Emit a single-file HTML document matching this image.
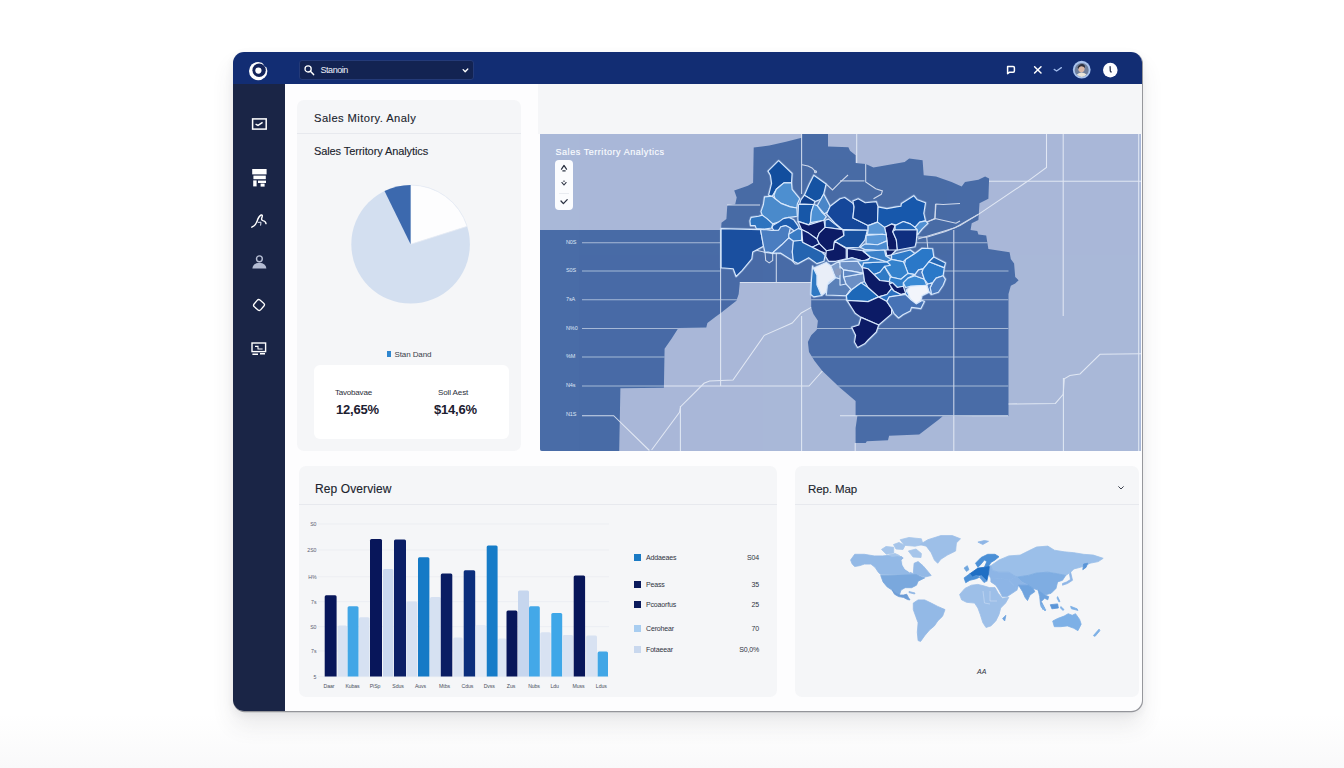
<!DOCTYPE html>
<html lang="en">
<head>
<meta charset="utf-8">
<title>Sales Territory Analytics</title>
<style>
*{box-sizing:border-box;margin:0;padding:0}
html,body{width:1344px;height:768px;overflow:hidden}
body{font-family:"Liberation Sans",sans-serif;background:linear-gradient(180deg,#ffffff 0%,#ffffff 93%,#f9f9fa 100%);position:relative;color:#20242e}
.abs{position:absolute}
.win{position:absolute;left:233px;top:52px;width:909px;height:659px;border-radius:11px;background:#fdfdfe;overflow:hidden;box-shadow:0.6px 0.8px 0 0.4px rgba(120,122,128,.75),0 14px 22px rgba(60,62,70,.11),0 3px 8px rgba(60,62,70,.07)}
.winwrap{position:absolute;left:0;top:0;width:1344px;height:768px}
.hdr{position:absolute;left:0;top:0;width:909px;height:32px;background:#122d73}
.side{position:absolute;left:0;top:32px;width:52px;height:627px;background:#1a2546}
.search{position:absolute;left:66px;top:8px;width:175px;height:19.5px;border-radius:3px;background:#132352;border:1px solid #243a78}
.search span{position:absolute;left:20.5px;top:4px;font-size:9px;color:#eef2fb;letter-spacing:-.45px}
.rpanel{position:absolute;left:305px;top:32px;width:604px;height:50px;background:#f5f6f8}
.card{position:absolute;background:#f5f6f8;border-radius:7px}
.card h3{position:absolute;font-weight:400;font-size:11.5px;color:#20242d;white-space:nowrap;letter-spacing:-.1px;-webkit-text-stroke:.12px #20242d}
.hr{position:absolute;height:1px;background:#e7e9ee}
.mapsvg,.barsvg,.piesvg,.worldsvg{position:absolute;display:block}
.mapsvg{border-radius:0 0 0 2px}
.t{position:absolute;white-space:nowrap}
.lg{position:absolute;left:335px;width:125px;height:8px;font-size:7px;line-height:8px;color:#2f3442;letter-spacing:-.15px}
.lg i{position:absolute;left:0;top:0;width:7px;height:7px}
.lg b{position:absolute;left:12px;top:0;font-weight:400;white-space:nowrap}
.lg u{position:absolute;right:0;top:0;text-decoration:none;white-space:nowrap}
.mapl{font-size:5.5px;color:#dfe7f6;letter-spacing:-.1px}
</style>
</head>
<body>
<div class="win">
  <div class="hdr">
    <svg class="abs" style="left:14px;top:8px" width="22" height="22" viewBox="0 0 22 22"><circle cx="11.2" cy="11.1" r="9.2" fill="#fff"/><circle cx="12.1" cy="10.3" r="6.7" fill="#14245a"/><path d="M14.5 1.2 L21.5 1.2 L21.5 8 L17.6 6.4 Z" fill="#122d73"/><circle cx="11.4" cy="10.6" r="3.1" fill="#fff"/></svg>
    <div class="search">
      <svg class="abs" style="left:1.5px;top:1px" width="16" height="16" viewBox="0 0 16 16"><circle cx="6.1" cy="6.9" r="3.1" fill="none" stroke="#fff" stroke-width="1.3"/><path d="M8.4 9.3 L11.6 12.6" stroke="#fff" stroke-width="1.5" stroke-linecap="round"/></svg>
      <span>Stanoin</span>
      <svg class="abs" style="left:162px;top:6.5px" width="8" height="6" viewBox="0 0 8 6"><path d="M1.2 1.6 L3.2 3.8 L5.8 1" fill="none" stroke="#fff" stroke-width="1.3" stroke-linecap="round" stroke-linejoin="round"/></svg>
    </div>
    <!-- right icons -->
    <svg class="abs" style="left:772px;top:12px" width="12" height="12" viewBox="0 0 12 12"><path d="M2.6 2.6 H8.2 Q9.4 2.6 9.4 3.8 V7 Q9.4 8.2 8.2 8.2 H4.6 L2.6 9.6 Z" fill="none" stroke="#fff" stroke-width="1.5" stroke-linejoin="round"/></svg>
    <svg class="abs" style="left:799px;top:12px" width="12" height="12" viewBox="0 0 12 12"><path d="M2.6 2.8 L9 9 M9 2.8 L2.6 9" stroke="#fff" stroke-width="1.5" stroke-linecap="round"/></svg>
    <svg class="abs" style="left:820px;top:14px" width="10" height="7" viewBox="0 0 10 7"><path d="M1.2 3.4 L3.6 5 L8.4 1.6" fill="none" stroke="#9db8ea" stroke-width="1.3" stroke-linecap="round" stroke-linejoin="round"/></svg>
    <svg class="abs" style="left:839px;top:8px" width="20" height="20" viewBox="0 0 20 20"><circle cx="9.7" cy="9.7" r="8.9" fill="#a9c3ee"/><circle cx="9.7" cy="9.9" r="7" fill="#6f7f9c"/><ellipse cx="9.4" cy="8.6" rx="3.2" ry="3.8" fill="#d9b7a6"/><path d="M5.6 7.6 Q7 3.4 11.4 4.2 Q13.6 5.2 13 8 Q11 5.8 8.4 6.4 Q6.6 7 6.4 9 Z" fill="#2c2f3d"/><path d="M4.8 14.6 Q9.6 10.6 14.6 14.6 Q12.4 17 9.7 17 Q7 17 4.8 14.6Z" fill="#e8e4da"/></svg>
    <svg class="abs" style="left:869px;top:10px" width="17" height="17" viewBox="0 0 17 17"><circle cx="8.3" cy="8.1" r="7.3" fill="#fdfdff"/><path d="M8.1 4.6 L8.3 9 L9.1 10" fill="none" stroke="#27304e" stroke-width="1.3" stroke-linecap="round"/></svg>
  </div>
  <div class="side">
    <!-- icon 1: rect w/ check -->
    <svg class="abs" style="left:17px;top:33px" width="18" height="14" viewBox="0 0 18 14"><rect x="2.6" y="1.9" width="13.6" height="10.2" fill="none" stroke="#fff" stroke-width="1.5"/><path d="M5.6 7.2 L8 8.4 L12.6 5.4" fill="none" stroke="#fff" stroke-width="1.4"/></svg>
    <!-- icon 2 -->
    <svg class="abs" style="left:18px;top:84px" width="17" height="20" viewBox="0 0 17 20"><rect x="1.2" y="1" width="14.4" height="5.4" fill="#fff"/><rect x="2.4" y="7.6" width="12.4" height="3.6" fill="#fff"/><rect x="2.2" y="12.4" width="3.4" height="6" fill="#fff"/><rect x="7" y="12.6" width="8" height="2.4" fill="#fff"/><rect x="9.6" y="15.6" width="4" height="3" fill="#fff"/></svg>
    <!-- icon 3 scribble -->
    <svg class="abs" style="left:17px;top:129px" width="18" height="16" viewBox="0 0 18 16"><path d="M1.8 14.2 Q5.4 12.6 7 8.6 Q8.4 3.4 11.2 2 Q13 1.6 12 4.4 Q10.8 7 13 7.6 Q15.6 8 16 10.6" fill="none" stroke="#fff" stroke-width="1.4" stroke-linecap="round"/><path d="M7.8 9.4 L11 9.2 L10.6 12.6" fill="none" stroke="#dfe4f2" stroke-width="1"/></svg>
    <!-- icon 4 person -->
    <svg class="abs" style="left:18px;top:171px" width="17" height="15" viewBox="0 0 17 15"><circle cx="8.4" cy="3.8" r="2.9" fill="none" stroke="#b9c0d6" stroke-width="1.4"/><path d="M1.4 13.6 Q1.8 8.2 8.4 7.8 Q15 8.2 15.4 13.6 Z" fill="#b4bcd3"/></svg>
    <!-- icon 5 diamond -->
    <svg class="abs" style="left:18px;top:213px" width="16" height="16" viewBox="0 0 16 16"><rect x="3.6" y="3.6" width="8.8" height="8.8" rx="2" transform="rotate(40 8 8)" fill="none" stroke="#fff" stroke-width="1.3"/></svg>
    <!-- icon 6 monitor -->
    <svg class="abs" style="left:17px;top:257px" width="18" height="15" viewBox="0 0 18 15"><rect x="2" y="2" width="13.6" height="8.6" fill="none" stroke="#fff" stroke-width="1.4"/><path d="M5 5.4 H8 V8 H12.6" fill="none" stroke="#fff" stroke-width="1.1"/><path d="M2.4 13.2 H8 M10 12.8 H15" stroke="#fff" stroke-width="1.5"/></svg>
  </div>
  <div class="rpanel"></div>

  <!-- Card 1 -->
  <div class="card" style="left:64px;top:48px;width:224px;height:351px">
    <h3 style="left:17px;top:12px;font-size:11.2px;letter-spacing:.42px">Sales Mitory. Analy</h3>
    <div class="hr" style="left:0;top:33px;width:224px"></div>
    <h3 style="left:17px;top:45px;font-size:11px">Sales Territory Analytics</h3>
    <div class="t" style="left:90px;top:251px;width:4px;height:6px;background:#2f86cf"></div>
    <div class="t" style="left:97.5px;top:249.5px;font-size:8px;color:#3a3f4c;letter-spacing:-.1px">Stan Dand</div>
    <div class="abs" style="left:17px;top:265px;width:195px;height:74px;border-radius:6px;background:#fff"></div>
    <div class="t" style="left:38px;top:288px;font-size:8px;color:#2b2f3a;letter-spacing:-.2px">Tavobavae</div>
    <div class="t" style="left:39px;top:302px;font-size:13px;font-weight:700;color:#1c2030;letter-spacing:-.2px">12,65%</div>
    <div class="t" style="left:141px;top:288px;font-size:8px;color:#2b2f3a;letter-spacing:-.1px">Soll Aest</div>
    <div class="t" style="left:137px;top:302px;font-size:13px;font-weight:700;color:#1c2030;letter-spacing:-.2px">$14,6%</div>
  </div>
  <svg class="piesvg" style="left:107px;top:123px" viewBox="340 175 140 140" width="140" height="140">
<circle cx="410.6" cy="244.3" r="59.3" fill="#d3dff0"/>
<path d="M410.6,244.3 L410.60,185.00 A59.3,59.3 0 0 1 467.12,226.37 Z" fill="#fdfdfe" stroke="#e6ebf4" stroke-width="0.8"/>
<path d="M410.6,244.3 L384.51,191.05 A59.3,59.3 0 0 1 410.60,185.00 Z" fill="#3c69ae"/>
</svg>

  <!-- Map -->
  <svg class="mapsvg" style="left:307px;top:82px" viewBox="540 134 601 317" width="601" height="317">
<rect x="540" y="134" width="601" height="317" fill="#a9b8d8"/>
<polygon points="540.0,230.0 721.0,230.0 721.5,222.8 726.4,218.9 727.3,205.2 735.2,204.2 736.7,197.4 734.2,190.5 747.9,185.7 753.1,182.7 753.7,147.6 769.3,145.6 786.0,141.7 801.6,137.8 801.6,134.0 828.0,134.0 828.0,146.6 848.4,147.2 850.0,150.7 855.6,155.2 855.6,163.0 865.7,164.1 873.5,167.5 904.7,161.9 909.2,158.6 922.6,160.3 923.7,175.3 936.0,176.4 941.6,178.6 951.6,182.0 961.7,186.5 965.0,182.0 978.4,179.8 985.1,176.4 989.1,178.6 988.4,198.7 979.5,203.2 978.4,219.9 971.7,223.3 970.6,230.0 977.3,231.1 978.4,234.4 986.2,235.6 988.4,249.0 1009.6,252.3 1010.8,259.0 1014.1,263.5 1015.2,276.9 1018.6,280.2 1015.2,283.6 1010.8,285.8 1008.5,294.0 1008.5,415.7 942.7,416.3 938.2,420.1 919.2,434.6 889.1,435.7 888.0,440.2 866.8,441.3 865.7,443.1 855.6,443.1 855.6,428.0 857.4,415.7 855.6,415.7 855.6,401.0 840.0,387.8 822.4,371.0 814.6,361.0 809.0,352.0 807.9,342.0 811.2,335.3 816.8,329.7 817.9,320.8 813.4,314.0 811.2,307.4 811.2,294.0 811.2,282.4 739.8,282.4 738.7,294.0 736.4,300.7 720.8,313.0 716.3,316.3 707.4,323.0 706.3,327.5 678.4,328.0 671.7,338.6 664.6,348.7 663.9,387.8 620.4,388.2 619.2,451.0 540.0,451.0" fill="#496ca7"/>
<g stroke="#edf2fa" stroke-width="1.05" fill="none" opacity="0.82">
<clipPath id="rc"><polygon points="540.0,230.0 721.0,230.0 721.5,222.8 726.4,218.9 727.3,205.2 735.2,204.2 736.7,197.4 734.2,190.5 747.9,185.7 753.1,182.7 753.7,147.6 769.3,145.6 786.0,141.7 801.6,137.8 801.6,134.0 828.0,134.0 828.0,146.6 848.4,147.2 850.0,150.7 855.6,155.2 855.6,163.0 865.7,164.1 873.5,167.5 904.7,161.9 909.2,158.6 922.6,160.3 923.7,175.3 936.0,176.4 941.6,178.6 951.6,182.0 961.7,186.5 965.0,182.0 978.4,179.8 985.1,176.4 989.1,178.6 988.4,198.7 979.5,203.2 978.4,219.9 971.7,223.3 970.6,230.0 977.3,231.1 978.4,234.4 986.2,235.6 988.4,249.0 1009.6,252.3 1010.8,259.0 1014.1,263.5 1015.2,276.9 1018.6,280.2 1015.2,283.6 1010.8,285.8 1008.5,294.0 1008.5,415.7 942.7,416.3 938.2,420.1 919.2,434.6 889.1,435.7 888.0,440.2 866.8,441.3 865.7,443.1 855.6,443.1 855.6,428.0 857.4,415.7 855.6,415.7 855.6,401.0 840.0,387.8 822.4,371.0 814.6,361.0 809.0,352.0 807.9,342.0 811.2,335.3 816.8,329.7 817.9,320.8 813.4,314.0 811.2,307.4 811.2,294.0 811.2,282.4 739.8,282.4 738.7,294.0 736.4,300.7 720.8,313.0 716.3,316.3 707.4,323.0 706.3,327.5 678.4,328.0 671.7,338.6 664.6,348.7 663.9,387.8 620.4,388.2 619.2,451.0 540.0,451.0"/></clipPath>
<g clip-path="url(#rc)" opacity="0.7">
<path d="M582,242.7 H721 M905,242.7 H1008.5"/>
<path d="M582,271 H721 M905,271 H1008.5"/>
<path d="M582,299.8 H1008.5"/>
<path d="M582,328.4 H1008.5"/>
<path d="M582,357 H1008.5"/>
<path d="M582,386 H1008.5"/>
</g>
<path d="M582,415.7 H613.7 L649.4,450.5"/>
<path d="M840,415.7 H1008"/>
<path d="M801.6,134 V194"/>
<path d="M727,205 H760"/>
<path d="M720.6,230 V386"/>
<path d="M801.6,316 V451"/>
<path d="M651.6,450 L679.5,412.3 L680.6,406.7 L704,383.3 L709.6,381 L733,380 L764.3,335.3 L792.2,323 L801.2,313 L811.2,307.4"/>
<path d="M680.4,406 V451"/>
<path d="M664,386 H809 L822.4,371"/>
<path d="M953.8,230 V451"/>
<path d="M1063.2,134 V316"/>
<path d="M1063.4,378 V451"/>
<path d="M1008.5,404 L1055.4,403.4 L1063.2,394.4 L1064.3,378.8 L1069.9,375.5 L1080,373.9 L1100,354.3 L1141,353.8"/>
<path d="M856.7,134 V163"/>
<path d="M989,181.3 H1141"/>
<path d="M1046.5,134 V167.5 L1027.5,181.3 L978.4,214.4 L970.6,218.8 L955,227.8 L918,239"/>
<path d="M840,180.9 H864.5"/>
<path d="M865.7,164 V182 L875.7,188.7 L882.4,190.9 L881.3,194.3 L873.5,198.7"/>
<path d="M936,204.3 L934.9,218.8 L918.1,225.5"/>
<path d="M855.2,443 V451"/>
<path d="M1138.7,134 V451"/>
<path d="M776.3,252 V282"/>
<path d="M739.8,282.4 H811"/>
<path d="M802,164.7 L808,166 L812,168 L815.5,171.7 M826.1,184 L832.5,189.9 L840,182.3 L848,175"/>
<circle cx="815.5" cy="171.7" r="1"/>
<path d="M765,252 L765.7,260.5 L769.2,262.9 L772.7,260.5 L772.7,253.5"/>
<path d="M935.5,204 L934.9,218.6 L926.7,222.1 L917.3,235 M935.5,204 L943.1,204.5 L960,203.4 M934.9,218.6 L956,223.3 L960,221 M917.3,237 L926.7,237.3 L945.5,231.5 L960,225.6 L978,214.5 M926.7,237.3 L928,250"/>
<path d="M755.2,250 L765,252.3 L772.7,253.5 L776.3,252.3 L785.6,254.7 L790.3,258.2 L795,264 L797.3,264 L809.1,257 L812.6,258.2 L815,261.7"/>
<path d="M760.5,229.6 L763.5,246.2 L755.2,250 M764.5,229.1 L772,230.5 L778.6,230.3"/>
</g>
<g stroke="#cfe4ff" stroke-width="2.6" stroke-linejoin="round" opacity="0.28" fill="none">
<polygon points="778.6,160.6 792.1,173.5 791.5,182.9 783.9,182.9 781.0,185.2 776.3,189.3 772.2,196.3 768.6,195.2 771.6,183.4 770.4,175.2 768.0,171.1"/>
<polygon points="781.0,185.2 783.9,182.9 791.5,182.9 792.1,189.3 799.7,198.7 797.3,204.0 796.8,208.0 790.3,206.9 781.0,203.4 775.1,198.7 773.9,195.2 776.3,189.3"/>
<polygon points="764.5,196.9 772.2,196.3 775.1,198.7 781.0,203.4 790.3,206.9 796.8,208.0 797.3,216.3 789.1,217.4 783.3,218.6 778.6,222.1 772.7,223.9 766.9,218.6 762.2,215.1 761.0,211.6 763.4,204.5"/>
<polygon points="751.1,217.4 758.7,216.3 762.2,215.1 766.9,218.6 772.7,223.9 771.6,228.0 764.5,229.1 756.3,228.6 755.2,225.6 750.5,225.6 749.9,220.9"/>
<polygon points="772.7,225.6 778.6,222.1 783.3,218.6 789.1,217.4 793.8,219.8 797.9,225.6 799.7,230.3 795.0,231.5 790.3,228.0 785.6,225.6 780.9,226.8 778.6,230.3 773.9,230.3 772.2,228.0"/>
<polygon points="721.1,228.6 760.5,229.6 763.5,246.2 752.7,252.1 751.8,258.9 742.0,270.6 736.1,276.5 733.2,268.7 721.1,267.7"/>
<polygon points="813.8,175.2 826.1,184.0 823.7,194.0 820.8,199.3 814.9,201.6 804.4,195.2 809.1,184.6"/>
<polygon points="804.4,195.2 814.9,201.6 813.8,204.5 799.7,203.9 800.9,199.8"/>
<polygon points="798.5,204.5 813.8,204.5 811.4,211.6 810.4,222.6 808.7,224.9 798.1,221.4 797.9,218.6"/>
<polygon points="813.8,204.5 817.3,205.7 821.6,212.0 826.3,216.7 823.9,220.2 810.4,222.6 811.4,211.6"/>
<polygon points="820.8,199.3 823.7,194.0 830.2,206.3 827.8,211.6 824.3,213.9 817.3,205.7"/>
<polygon points="830.2,206.3 840.0,198.7 844.7,197.5 852.9,203.4 854.1,206.9 852.9,218.0 868.1,225.6 868.1,230.3 845.9,229.6 842.7,229.6 835.6,223.8 826.6,214.0"/>
<polygon points="852.9,201.0 858.2,198.7 865.2,202.8 876.3,201.6 878.1,206.9 877.5,222.1 868.1,225.6 852.9,218.0 854.1,206.9"/>
<polygon points="878.1,206.9 886.9,208.6 896.3,206.9 900.9,206.3 901.5,203.4 913.8,195.7 917.3,199.8 925.5,202.8 923.8,213.3 925.5,220.9 919.7,222.1 915.0,227.4 910.3,223.9 903.3,221.5 896.3,225.0 891.6,223.9 884.5,227.4 877.5,222.1"/>
<polygon points="884.5,227.4 891.6,223.9 895.1,225.6 892.7,231.5 896.3,239.7 897.4,250.0 896.3,250.0 891.6,254.7 886.9,255.9 888.0,250.0 886.9,240.9 886.3,235.0"/>
<polygon points="895.1,229.7 917.3,229.7 916.2,242.0 915.0,246.7 897.4,250.0 896.3,239.7 892.7,231.5"/>
<polygon points="896.3,225.0 903.3,221.5 910.3,223.9 915.0,227.4 917.3,229.7 895.1,229.7 895.1,225.6"/>
<polygon points="843.8,230.2 867.3,230.2 864.9,240.2 859.1,247.2 846.2,247.8 834.5,241.3 843.8,235.5"/>
<polygon points="868.1,225.6 877.5,222.1 884.5,227.4 886.3,235.0 882.5,234.3 867.3,234.3 868.1,230.3"/>
<polygon points="866.1,235.5 882.5,234.3 886.3,235.0 886.9,240.9 877.8,244.8 866.1,243.7"/>
<polygon points="864.9,244.0 877.8,244.8 886.9,240.9 888.0,250.0 882.5,250.7 864.9,249.5 860.0,247.2"/>
<polygon points="864.9,249.5 882.5,250.7 886.0,255.4 882.5,260.0 870.8,257.7 862.6,250.7"/>
<polygon points="915.0,227.4 919.7,222.1 925.5,220.9 927.9,223.3 922.0,229.1 917.3,235.0 917.3,229.7"/>
<polygon points="798.1,221.4 808.7,224.9 823.9,220.2 825.1,227.3 819.2,233.1 816.9,239.0 808.7,233.1 801.6,229.6"/>
<polygon points="825.1,220.2 828.6,219.1 840.3,228.4 842.7,229.6 825.1,227.3"/>
<polygon points="819.2,233.1 825.1,227.3 842.7,229.6 843.8,235.5 834.5,241.3 833.3,249.5 826.3,250.7 819.2,243.7 816.9,239.0"/>
<polygon points="801.6,229.6 808.7,233.1 816.9,239.0 819.2,243.7 812.2,247.2 802.8,242.5"/>
<polygon points="812.2,247.2 819.2,243.7 826.3,250.7 830.9,251.9 828.6,254.2 821.6,251.9"/>
<polygon points="826.3,250.7 833.3,249.5 834.5,241.3 846.2,248.4 846.2,258.9 835.6,261.3 828.6,261.3 825.7,256.6"/>
<polygon points="847.3,248.4 862.6,250.7 870.8,257.7 863.8,261.3 852.0,257.7 847.3,258.9"/>
<polygon points="764.5,229.5 772.0,230.5 778.6,230.3 780.9,226.8 785.6,225.6 790.3,228.0 788.8,234.3 788.8,237.8 781.7,244.8 772.3,253.1 768.0,252.0 765.0,252.3 763.5,246.2 760.5,229.6"/>
<polygon points="788.8,234.3 798.1,228.4 801.6,229.6 801.6,240.2 793.4,241.3 788.8,237.8"/>
<polygon points="772.3,253.1 781.7,244.8 788.8,237.8 793.4,241.3 792.3,251.9 793.4,261.3 789.9,258.9 780.5,253.1"/>
<polygon points="793.4,241.3 801.6,240.2 802.8,242.5 812.2,247.2 821.6,251.9 825.1,255.4 823.9,261.3 816.9,263.6 808.7,257.7 798.1,263.6 793.4,261.3 792.3,251.9"/>
<polygon points="813.4,268.3 826.3,262.4 830.9,265.9 835.6,277.7 828.6,282.3 826.3,291.7 821.6,295.5 816.9,284.7 816.9,275.3"/>
<polygon points="812.6,266.0 813.4,268.3 816.9,275.3 816.9,284.7 821.6,295.5 813.8,296.9 810.8,294.5 811.4,280.5"/>
<polygon points="839.1,261.3 852.0,257.7 863.8,261.3 861.4,265.9 862.6,271.8 852.0,270.6 845.0,268.3 840.3,264.8"/>
<polygon points="830.9,265.9 839.1,261.3 840.3,264.8 845.0,268.3 845.0,275.3 843.8,280.0 835.6,277.7"/>
<polygon points="845.0,275.3 845.0,268.3 852.0,270.6 862.6,271.8 863.8,280.0 856.7,287.0 850.9,289.4 843.8,280.0"/>
<polygon points="827.4,284.7 835.6,277.7 843.8,280.0 850.9,289.4 846.2,295.7 826.3,295.0"/>
<polygon points="846.4,295.7 850.9,289.4 856.7,287.0 863.8,280.0 866.1,281.2 875.5,291.7 878.7,296.9 868.1,301.6 847.0,300.4"/>
<polygon points="863.8,261.3 870.8,257.7 882.5,260.0 886.0,255.4 885.7,255.9 884.5,250.0 863.4,251.2 870.5,257.0 868.1,260.0 861.4,265.9"/>
<polygon points="885.7,250.0 896.3,250.0 891.6,254.7 886.9,255.9"/>
<polygon points="840.0,261.7 857.6,261.1 862.3,267.6 863.4,273.4 851.7,271.1 843.5,269.9 840.0,266.4"/>
<polygon points="843.5,277.0 863.4,273.4 864.6,281.6 861.1,282.8 851.7,289.8 845.9,284.0"/>
<polygon points="840.0,266.4 843.5,269.9 843.5,277.0 845.9,284.0 840.0,285.2"/>
<polygon points="843.5,269.9 851.7,271.1 863.4,273.4 843.5,277.0"/>
<polygon points="846.4,295.7 851.7,289.8 861.1,282.8 868.1,287.5 878.7,296.9 868.1,301.6 847.0,300.4"/>
<polygon points="863.4,262.9 886.9,261.7 890.4,265.2 879.8,272.3 874.0,274.6 868.1,268.8 862.3,267.6"/>
<polygon points="857.6,261.1 868.1,260.0 870.5,257.0 886.9,261.7 863.4,262.9 862.3,267.6"/>
<polygon points="879.8,272.3 884.5,266.4 890.4,277.0 889.2,281.6 879.8,280.5 874.0,274.6"/>
<polygon points="863.4,251.2 884.5,250.0 885.7,255.9 891.6,259.4 886.9,261.7 870.5,257.0"/>
<polygon points="891.6,254.7 910.3,250.0 915.0,253.5 905.6,259.4 903.3,261.7 891.6,259.4"/>
<polygon points="905.6,259.4 915.0,253.5 922.0,248.2 932.6,248.8 933.8,257.0 929.1,261.7 923.2,268.8 918.5,269.9 915.0,274.6 908.0,273.4 904.5,264.1"/>
<polygon points="890.4,265.2 886.9,261.7 891.6,259.4 903.3,261.7 904.5,264.1 908.0,273.4 900.9,279.3 891.6,277.0 884.5,266.4"/>
<polygon points="890.4,277.0 900.9,279.3 908.0,273.4 915.0,274.6 908.0,278.1 903.3,282.8 903.3,286.3 897.4,287.5 892.7,282.8 889.2,281.6"/>
<polygon points="903.3,282.8 908.0,278.1 915.0,275.8 924.4,279.3 926.7,285.2 910.3,286.3 905.6,287.5"/>
<polygon points="918.5,269.9 923.2,268.8 922.0,272.3 924.4,279.3 915.0,275.8 915.0,274.6"/>
<polygon points="923.2,268.8 929.1,261.7 944.3,267.6 943.1,275.8 936.1,278.1 932.6,282.8 927.9,284.0 924.4,279.3 922.0,272.3"/>
<polygon points="933.8,257.0 945.5,262.9 944.3,267.6 929.1,261.7"/>
<polygon points="936.1,278.1 943.1,275.8 945.5,279.3 943.1,285.2 938.4,292.2 931.4,294.5 930.2,287.5 932.6,282.8"/>
<polygon points="926.7,285.2 927.9,284.0 932.6,282.8 930.2,287.5 931.4,294.5 929.1,292.2"/>
<polygon points="862.3,267.6 868.1,268.8 874.0,274.6 879.8,280.5 889.2,281.6 891.6,288.7 886.9,294.5 878.7,296.9 868.1,287.5 864.6,281.6 863.4,273.4"/>
<polygon points="889.2,284.0 892.7,282.8 897.4,287.5 903.3,286.3 905.6,293.4 900.9,294.5 893.9,291.0"/>
<polygon points="878.7,296.9 886.9,294.5 891.6,288.7 893.9,291.0 900.9,294.5 905.6,293.4 906.8,289.8 910.3,299.2 905.6,294.5 889.2,296.9 886.9,301.6"/>
<polygon points="847.0,300.4 868.1,301.6 878.7,296.9 886.9,301.6 891.6,308.6 891.6,313.9 878.7,325.0 861.1,317.4 855.2,313.3"/>
<polygon points="861.1,317.4 878.7,325.0 876.3,332.0 868.1,340.0 864.6,343.8 857.6,347.5 854.5,342.0 855.6,335.3 851.7,327.3 858.8,325.0"/>
<polygon points="906.8,289.8 910.3,286.3 926.7,285.2 929.1,292.2 922.0,295.7 920.9,300.4 916.2,303.9 910.3,299.2"/>
<polygon points="889.2,296.9 905.6,294.5 910.3,299.2 916.2,303.9 922.0,300.4 924.4,301.6 920.9,308.6 911.5,307.4 910.3,310.9 903.3,314.5 898.6,318.0 893.9,313.3 891.6,308.6 886.9,301.6"/>
</g>
<g stroke="#d6e7fc" stroke-width="1.15" stroke-linejoin="round">
<polygon points="778.6,160.6 792.1,173.5 791.5,182.9 783.9,182.9 781.0,185.2 776.3,189.3 772.2,196.3 768.6,195.2 771.6,183.4 770.4,175.2 768.0,171.1" fill="#124e9e"/>
<polygon points="781.0,185.2 783.9,182.9 791.5,182.9 792.1,189.3 799.7,198.7 797.3,204.0 796.8,208.0 790.3,206.9 781.0,203.4 775.1,198.7 773.9,195.2 776.3,189.3" fill="#4d8fd0"/>
<polygon points="764.5,196.9 772.2,196.3 775.1,198.7 781.0,203.4 790.3,206.9 796.8,208.0 797.3,216.3 789.1,217.4 783.3,218.6 778.6,222.1 772.7,223.9 766.9,218.6 762.2,215.1 761.0,211.6 763.4,204.5" fill="#4a8acb"/>
<polygon points="751.1,217.4 758.7,216.3 762.2,215.1 766.9,218.6 772.7,223.9 771.6,228.0 764.5,229.1 756.3,228.6 755.2,225.6 750.5,225.6 749.9,220.9" fill="#2e74bf"/>
<polygon points="772.7,225.6 778.6,222.1 783.3,218.6 789.1,217.4 793.8,219.8 797.9,225.6 799.7,230.3 795.0,231.5 790.3,228.0 785.6,225.6 780.9,226.8 778.6,230.3 773.9,230.3 772.2,228.0" fill="#1d5cad"/>
<polygon points="721.1,228.6 760.5,229.6 763.5,246.2 752.7,252.1 751.8,258.9 742.0,270.6 736.1,276.5 733.2,268.7 721.1,267.7" fill="#1a4f9f"/>
<polygon points="813.8,175.2 826.1,184.0 823.7,194.0 820.8,199.3 814.9,201.6 804.4,195.2 809.1,184.6" fill="#1553a3"/>
<polygon points="804.4,195.2 814.9,201.6 813.8,204.5 799.7,203.9 800.9,199.8" fill="#0f3f8c"/>
<polygon points="798.5,204.5 813.8,204.5 811.4,211.6 810.4,222.6 808.7,224.9 798.1,221.4 797.9,218.6" fill="#1757a8"/>
<polygon points="813.8,204.5 817.3,205.7 821.6,212.0 826.3,216.7 823.9,220.2 810.4,222.6 811.4,211.6" fill="#4d90d3"/>
<polygon points="820.8,199.3 823.7,194.0 830.2,206.3 827.8,211.6 824.3,213.9 817.3,205.7" fill="#4a86c8"/>
<polygon points="830.2,206.3 840.0,198.7 844.7,197.5 852.9,203.4 854.1,206.9 852.9,218.0 868.1,225.6 868.1,230.3 845.9,229.6 842.7,229.6 835.6,223.8 826.6,214.0" fill="#15479a"/>
<polygon points="852.9,201.0 858.2,198.7 865.2,202.8 876.3,201.6 878.1,206.9 877.5,222.1 868.1,225.6 852.9,218.0 854.1,206.9" fill="#103d8c"/>
<polygon points="878.1,206.9 886.9,208.6 896.3,206.9 900.9,206.3 901.5,203.4 913.8,195.7 917.3,199.8 925.5,202.8 923.8,213.3 925.5,220.9 919.7,222.1 915.0,227.4 910.3,223.9 903.3,221.5 896.3,225.0 891.6,223.9 884.5,227.4 877.5,222.1" fill="#1758ac"/>
<polygon points="884.5,227.4 891.6,223.9 895.1,225.6 892.7,231.5 896.3,239.7 897.4,250.0 896.3,250.0 891.6,254.7 886.9,255.9 888.0,250.0 886.9,240.9 886.3,235.0" fill="#0c1b66"/>
<polygon points="895.1,229.7 917.3,229.7 916.2,242.0 915.0,246.7 897.4,250.0 896.3,239.7 892.7,231.5" fill="#0f2f80"/>
<polygon points="896.3,225.0 903.3,221.5 910.3,223.9 915.0,227.4 917.3,229.7 895.1,229.7 895.1,225.6" fill="#1d62b5"/>
<polygon points="843.8,230.2 867.3,230.2 864.9,240.2 859.1,247.2 846.2,247.8 834.5,241.3 843.8,235.5" fill="#17509f"/>
<polygon points="868.1,225.6 877.5,222.1 884.5,227.4 886.3,235.0 882.5,234.3 867.3,234.3 868.1,230.3" fill="#5a97d6"/>
<polygon points="866.1,235.5 882.5,234.3 886.3,235.0 886.9,240.9 877.8,244.8 866.1,243.7" fill="#5a98d8"/>
<polygon points="864.9,244.0 877.8,244.8 886.9,240.9 888.0,250.0 882.5,250.7 864.9,249.5 860.0,247.2" fill="#4a8acf"/>
<polygon points="864.9,249.5 882.5,250.7 886.0,255.4 882.5,260.0 870.8,257.7 862.6,250.7" fill="#3f84cc"/>
<polygon points="915.0,227.4 919.7,222.1 925.5,220.9 927.9,223.3 922.0,229.1 917.3,235.0 917.3,229.7" fill="#4f8fd2"/>
<polygon points="798.1,221.4 808.7,224.9 823.9,220.2 825.1,227.3 819.2,233.1 816.9,239.0 808.7,233.1 801.6,229.6" fill="#0c1b66"/>
<polygon points="825.1,220.2 828.6,219.1 840.3,228.4 842.7,229.6 825.1,227.3" fill="#1a4f9e"/>
<polygon points="819.2,233.1 825.1,227.3 842.7,229.6 843.8,235.5 834.5,241.3 833.3,249.5 826.3,250.7 819.2,243.7 816.9,239.0" fill="#0c1b66"/>
<polygon points="801.6,229.6 808.7,233.1 816.9,239.0 819.2,243.7 812.2,247.2 802.8,242.5" fill="#0e2272"/>
<polygon points="812.2,247.2 819.2,243.7 826.3,250.7 830.9,251.9 828.6,254.2 821.6,251.9" fill="#0c1b66"/>
<polygon points="826.3,250.7 833.3,249.5 834.5,241.3 846.2,248.4 846.2,258.9 835.6,261.3 828.6,261.3 825.7,256.6" fill="#0c1b66"/>
<polygon points="847.3,248.4 862.6,250.7 870.8,257.7 863.8,261.3 852.0,257.7 847.3,258.9" fill="#0c1b66"/>
<polygon points="764.5,229.5 772.0,230.5 778.6,230.3 780.9,226.8 785.6,225.6 790.3,228.0 788.8,234.3 788.8,237.8 781.7,244.8 772.3,253.1 768.0,252.0 765.0,252.3 763.5,246.2 760.5,229.6" fill="#4a7dc0"/>
<polygon points="788.8,234.3 798.1,228.4 801.6,229.6 801.6,240.2 793.4,241.3 788.8,237.8" fill="#3a7cc4"/>
<polygon points="772.3,253.1 781.7,244.8 788.8,237.8 793.4,241.3 792.3,251.9 793.4,261.3 789.9,258.9 780.5,253.1" fill="#4a78bb"/>
<polygon points="793.4,241.3 801.6,240.2 802.8,242.5 812.2,247.2 821.6,251.9 825.1,255.4 823.9,261.3 816.9,263.6 808.7,257.7 798.1,263.6 793.4,261.3 792.3,251.9" fill="#2464b0"/>
<polygon points="813.4,268.3 826.3,262.4 830.9,265.9 835.6,277.7 828.6,282.3 826.3,291.7 821.6,295.5 816.9,284.7 816.9,275.3" fill="#e9eef8"/>
<polygon points="812.6,266.0 813.4,268.3 816.9,275.3 816.9,284.7 821.6,295.5 813.8,296.9 810.8,294.5 811.4,280.5" fill="#2e78c2"/>
<polygon points="839.1,261.3 852.0,257.7 863.8,261.3 861.4,265.9 862.6,271.8 852.0,270.6 845.0,268.3 840.3,264.8" fill="#6d92c8"/>
<polygon points="830.9,265.9 839.1,261.3 840.3,264.8 845.0,268.3 845.0,275.3 843.8,280.0 835.6,277.7" fill="#7e9dcb"/>
<polygon points="845.0,275.3 845.0,268.3 852.0,270.6 862.6,271.8 863.8,280.0 856.7,287.0 850.9,289.4 843.8,280.0" fill="#6188c0"/>
<polygon points="827.4,284.7 835.6,277.7 843.8,280.0 850.9,289.4 846.2,295.7 826.3,295.0" fill="#5a80b8"/>
<polygon points="846.4,295.7 850.9,289.4 856.7,287.0 863.8,280.0 866.1,281.2 875.5,291.7 878.7,296.9 868.1,301.6 847.0,300.4" fill="#1d68b8"/>
<polygon points="863.8,261.3 870.8,257.7 882.5,260.0 886.0,255.4 885.7,255.9 884.5,250.0 863.4,251.2 870.5,257.0 868.1,260.0 861.4,265.9" fill="#3c82cc"/>
<polygon points="885.7,250.0 896.3,250.0 891.6,254.7 886.9,255.9" fill="#0c1b66"/>
<polygon points="840.0,261.7 857.6,261.1 862.3,267.6 863.4,273.4 851.7,271.1 843.5,269.9 840.0,266.4" fill="#6b8fc5"/>
<polygon points="843.5,277.0 863.4,273.4 864.6,281.6 861.1,282.8 851.7,289.8 845.9,284.0" fill="#6b8fc5"/>
<polygon points="840.0,266.4 843.5,269.9 843.5,277.0 845.9,284.0 840.0,285.2" fill="#5a80b8"/>
<polygon points="843.5,269.9 851.7,271.1 863.4,273.4 843.5,277.0" fill="#5d86c2"/>
<polygon points="846.4,295.7 851.7,289.8 861.1,282.8 868.1,287.5 878.7,296.9 868.1,301.6 847.0,300.4" fill="#1d68b8"/>
<polygon points="863.4,262.9 886.9,261.7 890.4,265.2 879.8,272.3 874.0,274.6 868.1,268.8 862.3,267.6" fill="#2470c0"/>
<polygon points="857.6,261.1 868.1,260.0 870.5,257.0 886.9,261.7 863.4,262.9 862.3,267.6" fill="#3a80c8"/>
<polygon points="879.8,272.3 884.5,266.4 890.4,277.0 889.2,281.6 879.8,280.5 874.0,274.6" fill="#2e7ac5"/>
<polygon points="863.4,251.2 884.5,250.0 885.7,255.9 891.6,259.4 886.9,261.7 870.5,257.0" fill="#3a80c8"/>
<polygon points="891.6,254.7 910.3,250.0 915.0,253.5 905.6,259.4 903.3,261.7 891.6,259.4" fill="#2e7ac8"/>
<polygon points="905.6,259.4 915.0,253.5 922.0,248.2 932.6,248.8 933.8,257.0 929.1,261.7 923.2,268.8 918.5,269.9 915.0,274.6 908.0,273.4 904.5,264.1" fill="#2a78c8"/>
<polygon points="890.4,265.2 886.9,261.7 891.6,259.4 903.3,261.7 904.5,264.1 908.0,273.4 900.9,279.3 891.6,277.0 884.5,266.4" fill="#3482cc"/>
<polygon points="890.4,277.0 900.9,279.3 908.0,273.4 915.0,274.6 908.0,278.1 903.3,282.8 903.3,286.3 897.4,287.5 892.7,282.8 889.2,281.6" fill="#2f7dc9"/>
<polygon points="903.3,282.8 908.0,278.1 915.0,275.8 924.4,279.3 926.7,285.2 910.3,286.3 905.6,287.5" fill="#3a8ad4"/>
<polygon points="918.5,269.9 923.2,268.8 922.0,272.3 924.4,279.3 915.0,275.8 915.0,274.6" fill="#4a7cc0"/>
<polygon points="923.2,268.8 929.1,261.7 944.3,267.6 943.1,275.8 936.1,278.1 932.6,282.8 927.9,284.0 924.4,279.3 922.0,272.3" fill="#2a78c8"/>
<polygon points="933.8,257.0 945.5,262.9 944.3,267.6 929.1,261.7" fill="#2466b2"/>
<polygon points="936.1,278.1 943.1,275.8 945.5,279.3 943.1,285.2 938.4,292.2 931.4,294.5 930.2,287.5 932.6,282.8" fill="#4a7cc0"/>
<polygon points="926.7,285.2 927.9,284.0 932.6,282.8 930.2,287.5 931.4,294.5 929.1,292.2" fill="#4a7cc0"/>
<polygon points="862.3,267.6 868.1,268.8 874.0,274.6 879.8,280.5 889.2,281.6 891.6,288.7 886.9,294.5 878.7,296.9 868.1,287.5 864.6,281.6 863.4,273.4" fill="#0c1b66"/>
<polygon points="889.2,284.0 892.7,282.8 897.4,287.5 903.3,286.3 905.6,293.4 900.9,294.5 893.9,291.0" fill="#0c1b66"/>
<polygon points="878.7,296.9 886.9,294.5 891.6,288.7 893.9,291.0 900.9,294.5 905.6,293.4 906.8,289.8 910.3,299.2 905.6,294.5 889.2,296.9 886.9,301.6" fill="#2a70c0"/>
<polygon points="847.0,300.4 868.1,301.6 878.7,296.9 886.9,301.6 891.6,308.6 891.6,313.9 878.7,325.0 861.1,317.4 855.2,313.3" fill="#0c1b66"/>
<polygon points="861.1,317.4 878.7,325.0 876.3,332.0 868.1,340.0 864.6,343.8 857.6,347.5 854.5,342.0 855.6,335.3 851.7,327.3 858.8,325.0" fill="#0c1b66"/>
<polygon points="906.8,289.8 910.3,286.3 926.7,285.2 929.1,292.2 922.0,295.7 920.9,300.4 916.2,303.9 910.3,299.2" fill="#f2f5fb"/>
<polygon points="889.2,296.9 905.6,294.5 910.3,299.2 916.2,303.9 922.0,300.4 924.4,301.6 920.9,308.6 911.5,307.4 910.3,310.9 903.3,314.5 898.6,318.0 893.9,313.3 891.6,308.6 886.9,301.6" fill="#4672b5"/>
</g>
<circle cx="838" cy="271.8" r="3.6" fill="#8a9cc0"/>
</svg>
  <div class="t" style="left:322.5px;top:94.5px;font-size:9px;color:#fafcff;letter-spacing:.55px;-webkit-text-stroke:.15px #fafcff">Sales Territory Analytics</div>
  <div class="abs" style="left:322px;top:108px;width:18px;height:50px;border-radius:4px;background:#fbfcfe"></div>
  <svg class="abs" style="left:322px;top:108px" width="18" height="50" viewBox="0 0 18 50"><path d="M6.2 9.6 L9 5.4 L11.8 9.6 M7.4 10.8 H10.6" fill="none" stroke="#2d3444" stroke-width="1.2" stroke-linejoin="round"/><path d="M6.6 22.2 L9 25 L11.4 22.2 M9 20.4 V22" fill="none" stroke="#2d3444" stroke-width="1.1"/><path d="M4 33.5 H14" stroke="#e4e7ee" stroke-width="0.8"/><path d="M6 41 L8.4 43.6 L12.2 39.6" fill="none" stroke="#2d3444" stroke-width="1.3" stroke-linecap="round" stroke-linejoin="round"/></svg>
  <!-- map y labels -->
  <div class="t mapl" style="left:333px;top:187px">N0S</div>
  <div class="t mapl" style="left:333px;top:215px">S0S</div>
  <div class="t mapl" style="left:333px;top:244px">7sA</div>
  <div class="t mapl" style="left:333px;top:273px">N%0</div>
  <div class="t mapl" style="left:333px;top:301px">%M</div>
  <div class="t mapl" style="left:333px;top:330px">N4s</div>
  <div class="t mapl" style="left:333px;top:359px">N1S</div>

  <!-- Card 2 -->
  <div class="card" style="left:66px;top:414px;width:478px;height:231px">
    <h3 style="left:16px;top:16px;font-size:12px;letter-spacing:.1px">Rep Overview</h3>
    <div class="hr" style="left:0;top:38px;width:478px"></div>
    <div class="lg" style="top:88px"><i style="background:#1a7ac4"></i><b>Addaeaes</b><u>S04</u></div>
    <div class="lg" style="top:115px"><i style="background:#0a1a5c"></i><b>Peass</b><u>35</u></div>
    <div class="lg" style="top:135px"><i style="background:#0a1a5c"></i><b>Pcoaorfus</b><u>25</u></div>
    <div class="lg" style="top:159px"><i style="background:#a8cdf0"></i><b>Cerohear</b><u>70</u></div>
    <div class="lg" style="top:180px"><i style="background:#c9d8ee"></i><b>Fotaeear</b><u>S0,0%</u></div>

  </div>
  <svg class="barsvg" style="left:64px;top:453px" viewBox="297 505 480 192" width="480" height="192">
<path d="M318,524 H609" stroke="#e9ebf0" stroke-width="0.7"/>
<path d="M318,550 H609" stroke="#e9ebf0" stroke-width="0.7"/>
<path d="M318,576.8 H609" stroke="#e9ebf0" stroke-width="0.7"/>
<path d="M318,601.6 H609" stroke="#e9ebf0" stroke-width="0.7"/>
<path d="M318,626.6 H609" stroke="#e9ebf0" stroke-width="0.7"/>
<path d="M318,651 H609" stroke="#e9ebf0" stroke-width="0.7"/>
<path d="M318,676.6 H609" stroke="#e9ebf0" stroke-width="0.7"/>
<path d="M324.7,676.6 V596.8 Q324.7,595.3 326.2,595.3 H335.1 Q336.6,595.3 336.6,596.8 V676.6 Z" fill="#08165a"/>
<path d="M337.7,676.6 V627.0 Q337.7,625.5 339.2,625.5 H345.5 Q347.0,625.5 347.0,627.0 V676.6 Z" fill="#d8e2f2"/>
<path d="M347.6,676.6 V607.8 Q347.6,606.3 349.1,606.3 H357.0 Q358.5,606.3 358.5,607.8 V676.6 Z" fill="#41a6e6"/>
<path d="M359.0,676.6 V618.7 Q359.0,617.2 360.5,617.2 H368.0 Q369.5,617.2 369.5,618.7 V676.6 Z" fill="#d6e1f2"/>
<path d="M370.0,676.6 V540.5 Q370.0,539.0 371.5,539.0 H380.5 Q382.0,539.0 382.0,540.5 V676.6 Z" fill="#08165a"/>
<path d="M383.0,676.6 V570.5 Q383.0,569.0 384.5,569.0 H391.9 Q393.4,569.0 393.4,570.5 V676.6 Z" fill="#cbd9ef"/>
<path d="M394.0,676.6 V541.1 Q394.0,539.6 395.5,539.6 H404.5 Q406.0,539.6 406.0,541.1 V676.6 Z" fill="#0b1f66"/>
<path d="M406.4,676.6 V603.1 Q406.4,601.6 407.9,601.6 H415.9 Q417.4,601.6 417.4,603.1 V676.6 Z" fill="#d6e1f2"/>
<path d="M418.0,676.6 V558.8 Q418.0,557.3 419.5,557.3 H427.9 Q429.4,557.3 429.4,558.8 V676.6 Z" fill="#157ac6"/>
<path d="M430.0,676.6 V598.5 Q430.0,597.0 431.5,597.0 H439.3 Q440.8,597.0 440.8,598.5 V676.6 Z" fill="#d6e1f2"/>
<path d="M440.8,676.6 V575.0 Q440.8,573.5 442.3,573.5 H450.8 Q452.3,573.5 452.3,575.0 V676.6 Z" fill="#0a1d63"/>
<path d="M453.3,676.6 V639.0 Q453.3,637.5 454.8,637.5 H461.2 Q462.7,637.5 462.7,639.0 V676.6 Z" fill="#dae3f2"/>
<path d="M463.7,676.6 V571.8 Q463.7,570.3 465.2,570.3 H473.7 Q475.2,570.3 475.2,571.8 V676.6 Z" fill="#0b2e7c"/>
<path d="M475.7,676.6 V626.5 Q475.7,625.0 477.2,625.0 H484.5 Q486.0,625.0 486.0,626.5 V676.6 Z" fill="#e4ebf6"/>
<path d="M486.7,676.6 V547.1 Q486.7,545.6 488.2,545.6 H496.1 Q497.6,545.6 497.6,547.1 V676.6 Z" fill="#167cc8"/>
<path d="M498.0,676.6 V640.1 Q498.0,638.6 499.5,638.6 H505.0 Q506.5,638.6 506.5,640.1 V676.6 Z" fill="#dde6f4"/>
<path d="M506.5,676.6 V611.9 Q506.5,610.4 508.0,610.4 H515.9 Q517.4,610.4 517.4,611.9 V676.6 Z" fill="#08165a"/>
<path d="M518.0,676.6 V592.1 Q518.0,590.6 519.5,590.6 H527.5 Q529.0,590.6 529.0,592.1 V676.6 Z" fill="#c6d6ee"/>
<path d="M529.0,676.6 V607.8 Q529.0,606.3 530.5,606.3 H538.3 Q539.8,606.3 539.8,607.8 V676.6 Z" fill="#43a8e8"/>
<path d="M540.3,676.6 V633.8 Q540.3,632.3 541.8,632.3 H549.3 Q550.8,632.3 550.8,633.8 V676.6 Z" fill="#d8e2f2"/>
<path d="M551.3,676.6 V614.5 Q551.3,613.0 552.8,613.0 H560.7 Q562.2,613.0 562.2,614.5 V676.6 Z" fill="#3ea7e8"/>
<path d="M562.7,676.6 V636.5 Q562.7,635.0 564.2,635.0 H571.7 Q573.2,635.0 573.2,636.5 V676.6 Z" fill="#d8e2f2"/>
<path d="M573.7,676.6 V577.0 Q573.7,575.5 575.2,575.5 H583.6 Q585.1,575.5 585.1,577.0 V676.6 Z" fill="#08165a"/>
<path d="M586.2,676.6 V637.0 Q586.2,635.5 587.7,635.5 H595.5 Q597.0,635.5 597.0,637.0 V676.6 Z" fill="#d8e2f2"/>
<path d="M597.6,676.6 V653.1 Q597.6,651.6 599.1,651.6 H606.5 Q608.0,651.6 608.0,653.1 V676.6 Z" fill="#41a6e6"/>
<text x="316.5" y="526.0" text-anchor="end" font-size="5.2" fill="#5b6070" font-family="Liberation Sans, sans-serif">S0</text>
<text x="316.5" y="552.0" text-anchor="end" font-size="5.2" fill="#5b6070" font-family="Liberation Sans, sans-serif">2S0</text>
<text x="316.5" y="578.8" text-anchor="end" font-size="5.2" fill="#5b6070" font-family="Liberation Sans, sans-serif">H%</text>
<text x="316.5" y="603.6" text-anchor="end" font-size="5.2" fill="#5b6070" font-family="Liberation Sans, sans-serif">7s</text>
<text x="316.5" y="628.6" text-anchor="end" font-size="5.2" fill="#5b6070" font-family="Liberation Sans, sans-serif">S0</text>
<text x="316.5" y="653.0" text-anchor="end" font-size="5.2" fill="#5b6070" font-family="Liberation Sans, sans-serif">7s</text>
<text x="316.5" y="678.6" text-anchor="end" font-size="5.2" fill="#5b6070" font-family="Liberation Sans, sans-serif">5</text>
<text x="329" y="688" text-anchor="middle" font-size="5.2" fill="#4b5060" font-family="Liberation Sans, sans-serif" letter-spacing="-0.1">Daar</text>
<text x="352.5" y="688" text-anchor="middle" font-size="5.2" fill="#4b5060" font-family="Liberation Sans, sans-serif" letter-spacing="-0.1">Kubas</text>
<text x="375" y="688" text-anchor="middle" font-size="5.2" fill="#4b5060" font-family="Liberation Sans, sans-serif" letter-spacing="-0.1">PiSp</text>
<text x="398" y="688" text-anchor="middle" font-size="5.2" fill="#4b5060" font-family="Liberation Sans, sans-serif" letter-spacing="-0.1">Sdus</text>
<text x="420.5" y="688" text-anchor="middle" font-size="5.2" fill="#4b5060" font-family="Liberation Sans, sans-serif" letter-spacing="-0.1">Auvs</text>
<text x="444.5" y="688" text-anchor="middle" font-size="5.2" fill="#4b5060" font-family="Liberation Sans, sans-serif" letter-spacing="-0.1">Mtbs</text>
<text x="467.4" y="688" text-anchor="middle" font-size="5.2" fill="#4b5060" font-family="Liberation Sans, sans-serif" letter-spacing="-0.1">Cdus</text>
<text x="489.3" y="688" text-anchor="middle" font-size="5.2" fill="#4b5060" font-family="Liberation Sans, sans-serif" letter-spacing="-0.1">Dvss</text>
<text x="511" y="688" text-anchor="middle" font-size="5.2" fill="#4b5060" font-family="Liberation Sans, sans-serif" letter-spacing="-0.1">Zus</text>
<text x="534" y="688" text-anchor="middle" font-size="5.2" fill="#4b5060" font-family="Liberation Sans, sans-serif" letter-spacing="-0.1">Nubs</text>
<text x="554.7" y="688" text-anchor="middle" font-size="5.2" fill="#4b5060" font-family="Liberation Sans, sans-serif" letter-spacing="-0.1">Ldu</text>
<text x="578.6" y="688" text-anchor="middle" font-size="5.2" fill="#4b5060" font-family="Liberation Sans, sans-serif" letter-spacing="-0.1">Muss</text>
<text x="601.3" y="688" text-anchor="middle" font-size="5.2" fill="#4b5060" font-family="Liberation Sans, sans-serif" letter-spacing="-0.1">Ldus</text>
</svg>
  <!-- Card 3 -->
  <div class="card" style="left:562px;top:414px;width:344px;height:231px">
    <h3 style="left:13px;top:16.5px;font-size:11.5px">Rep. Map</h3>
    <div class="hr" style="left:0;top:38px;width:344px"></div>
    <svg class="abs" style="left:322px;top:19px" width="8" height="6" viewBox="0 0 8 6"><path d="M1.4 1.4 L4 4 L6.6 1.4" fill="none" stroke="#3a3f4c" stroke-width="1" /></svg>
    <div class="t" style="left:182px;top:201.5px;font-size:7px;color:#30343f;font-style:italic">AA</div>
  </div>
  <svg class="worldsvg" style="left:607px;top:473px" viewBox="840 525 280 125" width="280" height="125"><g stroke-linejoin="round" stroke-width="0.8">
<polygon points="850.6,560.0 854.7,554.3 864.4,554.3 874.2,555.9 882.3,555.9 892.1,555.1 901.9,556.7 905.1,560.0 902.7,564.9 905.1,569.0 910.0,572.2 913.3,573.8 914.1,563.3 918.1,561.6 923.0,565.7 927.9,571.4 931.2,575.5 924.7,577.1 919.8,575.5 916.5,574.6 880.7,574.6 878.3,572.2 875.0,567.3 870.9,564.1 864.4,564.1 859.5,565.7 854.7,566.5 852.2,564.1" fill="#93b9e6" stroke="#93b9e6"/>
<polygon points="901.9,560.0 905.0,557.4 910.0,560.0 912.3,566.0 910.0,572.2 905.1,569.0 902.7,564.9" fill="#f5f6f8" stroke="#f5f6f8"/>
<polygon points="881.5,549.4 886.0,546.5 893.7,547.3 893.7,553.0 886.4,554.3" fill="#a6c5ea" stroke="#a6c5ea"/>
<polygon points="900.2,539.7 909.0,537.5 921.4,538.8 923.0,544.5 915.0,546.2 904.3,545.3" fill="#a6c5ea" stroke="#a6c5ea"/>
<polygon points="908.4,551.0 916.0,549.0 921.4,553.5 921.0,557.5 913.0,557.0" fill="#a6c5ea" stroke="#a6c5ea"/>
<polygon points="893.5,544.5 899.0,542.5 905.0,545.5 903.0,549.5 896.0,549.0" fill="#a6c5ea" stroke="#a6c5ea"/>
<polygon points="888.8,555.1 895.0,553.5 899.5,555.5 892.1,556.5" fill="#a6c5ea" stroke="#a6c5ea"/>
<polygon points="919.8,544.5 927.9,539.7 940.9,535.6 952.3,535.6 960.5,538.8 956.4,542.9 955.6,551.0 947.4,555.1 940.9,559.2 937.7,563.3 934.4,560.0 931.2,552.7 926.3,546.2" fill="#9dbfe8" stroke="#9dbfe8"/>
<polygon points="880.7,575.5 916.5,574.6 919.8,576.3 924.7,577.9 918.1,581.2 916.5,585.2 911.6,587.7 905.1,587.7 901.0,590.1 899.4,595.0 896.2,593.4 892.1,590.1 887.2,586.9 883.1,582.0" fill="#7aa8dd" stroke="#7aa8dd"/>
<polygon points="892.1,590.1 896.2,593.4 899.4,595.0 903.5,595.0 906.7,594.2 908.4,597.4 910.0,599.9 907.6,599.6 903.5,597.4 898.6,596.6 894.5,594.2" fill="#6c9cd6" stroke="#6c9cd6"/>
<polygon points="909.0,591.5 915.0,593.0 914.6,594.0 909.0,592.6" fill="#8fb6e4" stroke="#8fb6e4"/>
<polygon points="913.3,603.1 918.1,599.9 924.7,599.9 931.2,603.1 937.7,606.4 945.0,609.6 942.6,616.2 937.7,621.0 934.4,625.9 929.5,630.0 924.7,635.7 920.6,641.4 918.1,640.6 917.3,632.4 918.1,622.7 915.7,616.2 913.3,609.6" fill="#93b9e6" stroke="#93b9e6"/>
<polygon points="999.0,560.0 1008.8,555.9 1020.2,555.1 1028.3,551.0 1036.5,547.0 1047.8,546.1 1054.4,550.2 1064.1,551.8 1073.9,552.7 1083.6,554.3 1093.4,555.1 1103.2,558.3 1098.3,561.6 1090.1,563.2 1085.3,565.7 1080.4,567.3 1073.9,568.9 1070.6,572.2 1065.7,575.4 1057.6,573.8 1047.8,572.2 1036.5,573.0 1028.3,575.4 1016.9,577.1 1008.8,572.2 999.0,572.2 992.5,570.5 990.9,565.7" fill="#9bbfe9" stroke="#9bbfe9"/>
<polygon points="989.3,566.5 990.9,565.7 992.5,570.5 999.0,572.2 1008.8,572.2 1016.9,577.1 1008.8,580.3 1000.7,577.9 990.9,578.7 988.5,573.8" fill="#8db5e6" stroke="#8db5e6"/>
<polygon points="975.5,563.2 981.1,557.5 987.7,554.3 995.0,554.3 999.0,556.7 995.0,560.0 990.9,562.4 988.5,566.5 984.4,567.3 986.8,561.6 984.4,560.0 980.3,564.9 977.9,567.3" fill="#4a8fd6" stroke="#4a8fd6"/>
<polygon points="969.8,573.8 977.9,568.1 984.4,567.3 989.3,566.5 988.5,573.8 986.8,581.1 984.4,578.7 981.1,575.4 976.3,575.4 972.2,577.1" fill="#1f6fc4" stroke="#1f6fc4"/>
<polygon points="964.1,577.9 969.8,573.8 972.2,577.1 976.3,575.4 979.5,577.1 976.3,578.7 969.8,580.3 965.7,582.7" fill="#4a8fd6" stroke="#4a8fd6"/>
<polygon points="979.5,577.1 981.1,575.4 984.4,578.7 986.8,581.1 984.0,582.5 981.5,579.5" fill="#5a98da" stroke="#5a98da"/>
<polygon points="964.1,568.1 967.3,565.7 968.9,569.7 966.5,571.4" fill="#6fa6de" stroke="#6fa6de"/>
<polygon points="977.9,542.1 984.4,540.5 988.5,541.3 982.8,544.5" fill="#8db5e6" stroke="#8db5e6"/>
<polygon points="990.9,578.7 1000.7,577.9 1008.8,580.3 1013.7,585.2 1016.9,590.1 1012.1,593.3 1007.2,596.6 1002.3,596.6 999.0,590.1 995.8,585.2 990.9,581.9" fill="#8db5e6" stroke="#8db5e6"/>
<polygon points="1016.9,577.1 1028.3,575.4 1036.5,573.0 1047.8,572.2 1057.6,573.8 1065.7,575.4 1062.5,580.3 1057.6,581.9 1056.0,588.4 1051.1,593.3 1044.6,595.0 1038.1,590.1 1033.2,588.4 1028.3,585.2 1021.8,581.9" fill="#7fade2" stroke="#7fade2"/>
<polygon points="1008.8,580.3 1016.9,577.1 1021.8,581.9 1028.3,585.2 1018.6,585.2 1016.9,590.1 1013.7,585.2" fill="#8db5e6" stroke="#8db5e6"/>
<polygon points="1018.6,585.2 1028.3,585.2 1033.2,588.4 1034.8,591.7 1030.0,595.0 1027.5,600.6 1025.1,597.4 1022.6,591.7" fill="#6fa3de" stroke="#6fa3de"/>
<polygon points="1038.1,590.1 1044.6,595.0 1048.7,596.6 1047.8,599.8 1044.6,598.2 1041.3,601.5 1044.6,608.0 1043.0,609.6 1040.5,604.7 1039.7,596.6" fill="#6fa3de" stroke="#6fa3de"/>
<polygon points="1050.3,604.7 1057.6,603.9 1058.4,608.0 1051.9,608.8" fill="#5a95d8" stroke="#5a95d8"/>
<polygon points="1041.5,604.0 1046.0,610.0 1045.0,611.0 1041.0,606.5" fill="#7db0e6" stroke="#7db0e6"/>
<polygon points="1070.6,606.3 1077.1,608.8 1078.0,610.4 1071.4,608.8" fill="#7db0e6" stroke="#7db0e6"/>
<polygon points="1060.8,606.5 1064.0,609.5 1063.0,610.5 1060.5,608.0" fill="#7db0e6" stroke="#7db0e6"/>
<polygon points="1057.6,596.6 1060.0,601.5 1059.0,602.0 1057.0,598.0" fill="#7db0e6" stroke="#7db0e6"/>
<polygon points="1083.6,564.0 1087.7,563.2 1086.1,567.3 1082.8,569.7" fill="#5a95d8" stroke="#5a95d8"/>
<polygon points="1070.6,572.2 1072.5,580.3 1067.4,583.6 1062.5,585.2 1062.5,583.5 1066.5,582.0 1070.5,579.5 1069.5,574.0" fill="#8db5e6" stroke="#8db5e6"/>
<polygon points="1052.7,621.0 1057.6,618.5 1064.1,616.1 1068.2,613.7 1072.2,615.3 1075.5,613.7 1079.6,619.4 1081.2,624.2 1077.9,630.7 1073.9,628.3 1067.4,625.9 1060.8,626.7 1054.3,626.7" fill="#7db0e6" stroke="#7db0e6"/>
<polygon points="1093.4,635.6 1099.1,629.1 1099.9,630.7 1095.0,636.4" fill="#7db0e6" stroke="#7db0e6"/>
<polygon points="959.6,594.5 964.9,588.4 971.4,585.2 977.9,584.4 984.4,586.0 989.3,587.6 995.0,587.6 998.2,593.3 1002.3,598.2 1008.8,597.4 1005.6,603.1 1000.7,608.0 999.0,614.5 995.8,621.0 990.9,625.9 986.0,627.5 982.8,622.6 980.3,614.5 977.9,608.0 974.6,603.1 966.5,602.3 961.6,599.8" fill="#9dbfe8" stroke="#9dbfe8"/>
<polygon points="1002.6,618.5 1005.9,615.3 1004.7,621.0" fill="#6fa3de" stroke="#6fa3de"/>
<path d="M983,591 L984.5,603 L990,604 M990,591 V601 H997" fill="none" stroke="#d4e3f6" stroke-width="0.5"/>
</g></svg>
</div>
</body>
</html>
